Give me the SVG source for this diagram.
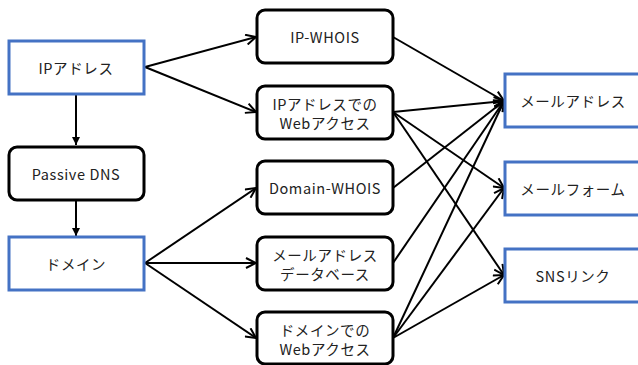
<svg xmlns="http://www.w3.org/2000/svg" width="638" height="365" viewBox="0 0 638 365">
<style>
.blue{fill:#fff;stroke:#4472C4;stroke-width:3}
.blk{fill:#fff;stroke:#000;stroke-width:3}
text{font-family:"Noto Sans CJK JP","Noto Sans",sans-serif;font-size:14.5px;letter-spacing:0.6px;fill:#222;text-anchor:middle;dominant-baseline:central}
.c line{stroke:#000;stroke-width:2;fill:none;marker-end:url(#a)}
.c line.v{marker-end:url(#f)}
</style>
<defs>
<marker id="a" viewBox="0 0 12 12" refX="11" refY="6" markerWidth="12" markerHeight="12" markerUnits="userSpaceOnUse" orient="auto">
<path d="M1,1 L11,6 L1,11" fill="none" stroke="#000" stroke-width="2"/>
</marker>
<marker id="f" viewBox="0 0 10 10" refX="10" refY="5" markerWidth="8" markerHeight="8" markerUnits="userSpaceOnUse" orient="auto">
<path d="M0,0 L10,5 L0,10 z" fill="#000"/>
</marker>
</defs>
<rect width="638" height="365" fill="#fff"/>
<g class="c" id="connectors">
<line class="v" x1="76" y1="95" x2="76" y2="145"/>
<line class="v" x1="76" y1="201" x2="76" y2="236"/>
<line x1="145" y1="67" x2="256" y2="37"/>
<line x1="145" y1="67" x2="256" y2="112"/>
<line x1="145" y1="263" x2="256" y2="188"/>
<line x1="145" y1="263" x2="256" y2="263"/>
<line x1="145" y1="263" x2="256" y2="338"/>
<line x1="393" y1="37" x2="504" y2="101"/>
<line x1="393" y1="112" x2="504" y2="101"/>
<line x1="393" y1="188" x2="504" y2="101"/>
<line x1="393" y1="263" x2="504" y2="101"/>
<line x1="393" y1="338" x2="504" y2="101"/>
<line x1="393" y1="112" x2="504" y2="188"/>
<line x1="393" y1="338" x2="504" y2="188"/>
<line x1="393" y1="112" x2="504" y2="275"/>
<line x1="393" y1="338" x2="504" y2="275"/>
</g>
<g id="n-ip"><rect class="blue" x="9" y="41" width="135" height="53"/><text x="76" y="67.5">IPアドレス</text></g>
<g id="n-pdns"><rect class="blk" x="9" y="147" width="135" height="53" rx="8"/><text x="76" y="173.5">Passive DNS</text></g>
<g id="n-domain"><rect class="blue" x="9" y="237" width="135" height="53"/><text x="76" y="263.5">ドメイン</text></g>
<g id="n-ipwhois"><rect class="blk" x="257" y="10" width="136" height="53" rx="8"/><text x="325" y="36.5">IP-WHOIS</text></g>
<g id="n-ipweb"><rect class="blk" x="257" y="86" width="136" height="53" rx="8"/><text x="325" y="103">IPアドレスでの</text><text x="325" y="122">Webアクセス</text></g>
<g id="n-dwhois"><rect class="blk" x="257" y="161" width="136" height="53" rx="8"/><text x="325" y="187.5">Domain-WHOIS</text></g>
<g id="n-db"><rect class="blk" x="257" y="237" width="136" height="53" rx="8"/><text x="325" y="254">メールアドレス</text><text x="325" y="273">データベース</text></g>
<g id="n-dweb"><rect class="blk" x="257" y="312" width="136" height="52" rx="8"/><text x="325" y="329">ドメインでの</text><text x="325" y="348">Webアクセス</text></g>
<g id="n-mail"><rect class="blue" x="505" y="74" width="140" height="53"/><text x="573" y="100.5">メールアドレス</text></g>
<g id="n-form"><rect class="blue" x="505" y="162" width="140" height="53"/><text x="573" y="188.5">メールフォーム</text></g>
<g id="n-sns"><rect class="blue" x="505" y="249" width="140" height="53"/><text x="573" y="275.5">SNSリンク</text></g>
</svg>
